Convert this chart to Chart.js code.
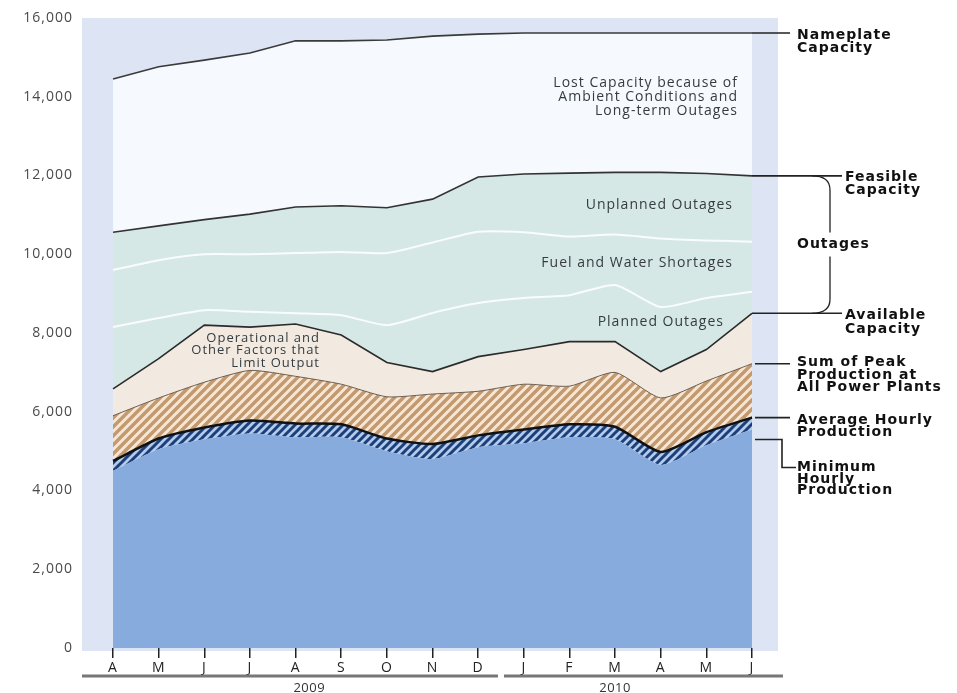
<!DOCTYPE html>
<html>
<head>
<meta charset="utf-8">
<script src="https://cdn.jsdelivr.net/npm/chart.js@4.4.0/dist/chart.umd.min.js"></script>
<style>
html, body { margin: 0; padding: 0; background: #fff; }
#wrap { width: 957px; height: 693px; }
</style>
</head>
<body>
<div id="wrap"><canvas id="myChart"></canvas></div>
<script>
// month ticks, April 2009 .. June 2010
const months = ['A', 'M', 'J', 'J', 'A', 'S', 'O', 'N', 'D', 'J', 'F', 'M', 'A', 'M', 'J'];
const years = ['2009', '2010'];

// MW (top edge of each band)
const minHourly = [4500, 5050, 5300, 5450, 5350, 5350, 5000, 4800, 5100, 5200, 5350, 5300, 4650, 5150, 5550];
const avgHourly = [4750, 5320, 5600, 5780, 5700, 5680, 5320, 5180, 5400, 5550, 5680, 5620, 4980, 5480, 5850];
const peakSum = [5900, 6350, 6750, 7050, 6900, 6700, 6380, 6450, 6520, 6700, 6650, 7000, 6350, 6780, 7220];
const available = [6580, 7350, 8200, 8150, 8230, 7950, 7250, 7020, 7400, 7580, 7780, 7780, 7020, 7580, 8500];
const plannedTop = [8150, 8380, 8580, 8540, 8500, 8450, 8200, 8510, 8760, 8890, 8960, 9220, 8660, 8890, 9050];
const fuelTop = [9600, 9850, 10000, 10000, 10030, 10060, 10030, 10300, 10570, 10560, 10450, 10500, 10400, 10350, 10320];
const feasible = [10560, 10720, 10880, 11020, 11200, 11230, 11180, 11400, 11960, 12040, 12060, 12080, 12080, 12050, 11990];
const nameplate = [14450, 14760, 14930, 15110, 15420, 15420, 15440, 15540, 15590, 15620, 15620, 15620, 15620, 15620, 15620];

function hatch(bg, fg, w, size) {
  const c = document.createElement('canvas');
  c.width = size; c.height = size;
  const g = c.getContext('2d');
  g.fillStyle = bg;
  g.fillRect(0, 0, size, size);
  g.strokeStyle = fg;
  g.lineWidth = w;
  g.beginPath();
  g.moveTo(-1, size + 1); g.lineTo(size + 1, -1);
  g.moveTo(-1, 1); g.lineTo(1, -1);
  g.moveTo(size - 1, size + 1); g.lineTo(size + 1, size - 1);
  g.stroke();
  return g.createPattern(c, 'repeat');
}

const blueHatch = hatch('#b3cbee', '#1d3f78', 3, 8);
const tanHatch = hatch('#f6e6d3', '#c39a70', 3.5, 9);

function band(label, values, fill, bg, border, bw, tension) {
  return {
    label: label,
    data: values.map((v, i) => ({ x: i, y: v })),
    fill: fill,
    backgroundColor: bg,
    borderColor: border,
    borderWidth: bw,
    pointRadius: 0,
    tension: tension || 0
  };
}

const data = {
  datasets: [
    band('Minimum Hourly Production', minHourly, 'origin', '#88abdd', 'rgba(0,0,0,0)', 0, 0.2),
    band('Average Hourly Production', avgHourly, '-1', blueHatch, '#111', 2.5, 0.2),
    band('Sum of Peak Production', peakSum, '-1', tanHatch, '#6e5f52', 1, 0.2),
    band('Available Capacity', available, '-1', '#f2e9e1', '#2b2b2b', 1.6),
    band('Planned Outages', plannedTop, '-1', '#d6e8e6', 'rgba(255,255,255,0.85)', 2, 0.2),
    band('Fuel and Water Shortages', fuelTop, '-1', '#d6e8e6', 'rgba(255,255,255,0.85)', 2, 0.2),
    band('Feasible Capacity', feasible, '-1', '#d6e8e6', '#333', 1.6),
    band('Nameplate Capacity', nameplate, '-1', '#f6f9fd', '#3a3a3a', 1.6)
  ]
};

function lines(ctx, arr, x, y, step, align) {
  ctx.textAlign = align;
  arr.forEach((t, i) => ctx.fillText(t, x, y + i * step));
}

const decor = {
  id: 'decor',
  beforeDraw(chart) {
    const { ctx, chartArea: a } = chart;
    ctx.letterSpacing = '1px';
    ctx.save();
    ctx.fillStyle = '#dde5f4';
    ctx.fillRect(a.left, a.top, a.right - a.left, a.bottom - a.top + 3);
    ctx.restore();
  },
  afterDraw(chart) {
    const { ctx, chartArea: a } = chart;
    const xs = chart.scales.x, ys = chart.scales.y;
    const last = months.length - 1;
    const xEnd = xs.getPixelForValue(last);
    const yOf = arr => ys.getPixelForValue(arr[last]);

    ctx.save();
    // labels inside the chart
    ctx.fillStyle = '#353c40';
    ctx.textBaseline = 'middle';
    ctx.letterSpacing = '1px';
    ctx.font = '14px "Open Sans", sans-serif';
    lines(ctx, ['Lost Capacity because of', 'Ambient Conditions and', 'Long-term Outages'], 738, 83, 14, 'right');
    lines(ctx, ['Unplanned Outages'], 733, 205, 14, 'right');
    lines(ctx, ['Fuel and Water Shortages'], 733, 263, 14, 'right');
    lines(ctx, ['Planned Outages'], 724, 322, 14, 'right');
    ctx.font = '13px "Open Sans", sans-serif';
    lines(ctx, ['Operational and', 'Other Factors that', 'Limit Output'], 320, 338, 12.5, 'right');

    // connectors on the right
    ctx.strokeStyle = '#222';
    ctx.lineWidth = 1.6;
    const yN = yOf(nameplate), yF = yOf(feasible), yA = yOf(available);
    const yP = yOf(peakSum), yAvg = yOf(avgHourly), yMin = yOf(minHourly);
    ctx.beginPath();
    ctx.moveTo(xEnd, yN); ctx.lineTo(790, yN);
    ctx.moveTo(xEnd, yF); ctx.lineTo(842, yF);
    ctx.moveTo(xEnd, yA); ctx.lineTo(842, yA);
    ctx.moveTo(xEnd + 3, yP); ctx.lineTo(790, yP);
    ctx.moveTo(xEnd + 3, yAvg); ctx.lineTo(790, yAvg);
    ctx.moveTo(xEnd + 3, yMin + 10); ctx.lineTo(782, yMin + 10);
    ctx.lineTo(782, yMin + 38); ctx.lineTo(796, yMin + 38);
    ctx.stroke();
    // brace for outages
    const yMid = (yF + yA) / 2;
    ctx.lineWidth = 1.3;
    ctx.beginPath();
    ctx.moveTo(812, yF);
    ctx.quadraticCurveTo(830, yF, 830, yF + 14);
    ctx.lineTo(830, yMid - 12);
    ctx.moveTo(830, yMid + 12);
    ctx.lineTo(830, yA - 14);
    ctx.quadraticCurveTo(830, yA, 812, yA);
    ctx.stroke();

    ctx.fillStyle = '#111';
    ctx.letterSpacing = '1px';
    ctx.font = 'bold 14px "DejaVu Sans", sans-serif';
    lines(ctx, ['Nameplate', 'Capacity'], 797, yN + 2, 13, 'left');
    lines(ctx, ['Feasible', 'Capacity'], 845, yF + 1, 13, 'left');
    lines(ctx, ['Outages'], 797, yMid, 13, 'left');
    lines(ctx, ['Available', 'Capacity'], 845, yA + 2, 14, 'left');
    lines(ctx, ['Sum of Peak', 'Production at', 'All Power Plants'], 797, yP - 1, 12.5, 'left');
    lines(ctx, ['Average Hourly', 'Production'], 797, yAvg + 3, 12, 'left');
    lines(ctx, ['Minimum', 'Hourly', 'Production'], 797, yMin + 38, 11.5, 'left');

    // year brackets under the month ticks
    const split = xs.getPixelForValue(8.5);
    ctx.strokeStyle = '#777';
    ctx.lineWidth = 3;
    ctx.beginPath();
    ctx.moveTo(a.left, a.bottom + 28); ctx.lineTo(split - 3, a.bottom + 28);
    ctx.moveTo(split + 3, a.bottom + 28); ctx.lineTo(a.right + 5, a.bottom + 28);
    ctx.stroke();
    ctx.fillStyle = '#333';
    ctx.letterSpacing = '0.5px';
    ctx.font = '13px "Open Sans", sans-serif';
    ctx.textAlign = 'center';
    ctx.fillText(years[0], xs.getPixelForValue(4.3), a.bottom + 40);
    ctx.fillText(years[1], xs.getPixelForValue(11), a.bottom + 40);
    ctx.restore();
  }
};

const config = {
  type: 'line',
  data: data,
  options: {
    responsive: true,
    maintainAspectRatio: false,
    animation: false,
    layout: { padding: { top: 18, right: 179, left: 0, bottom: 0 } },
    plugins: {
      legend: { display: false },
      tooltip: { enabled: false }
    },
    scales: {
      x: {
        type: 'linear',
        min: -0.68,
        max: 14.57,
        afterBuildTicks: s => { s.ticks = months.map((m, i) => ({ value: i })); },
        afterFit: s => { s.height = 45; },
        grid: { display: true, drawOnChartArea: false, drawTicks: true, tickLength: 10, color: '#222', lineWidth: 1.5 },
        border: { display: false },
        ticks: {
          autoSkip: false,
          maxRotation: 0,
          padding: 2,
          color: '#222',
          font: { family: '"Liberation Sans Narrow", "Open Sans", sans-serif', size: 14 },
          callback: v => months[v]
        }
      },
      y: {
        min: 0,
        max: 16000,
        afterFit: s => { s.width = 82; },
        grid: { display: false, drawTicks: false },
        border: { display: false },
        ticks: {
          stepSize: 2000,
          padding: 9,
          color: '#4a4a4a',
          font: { family: '"Open Sans", sans-serif', size: 14 }
        }
      }
    }
  },
  plugins: [decor]
};

var myChart = new Chart(document.getElementById('myChart'), config);
</script>
</body>
</html>
